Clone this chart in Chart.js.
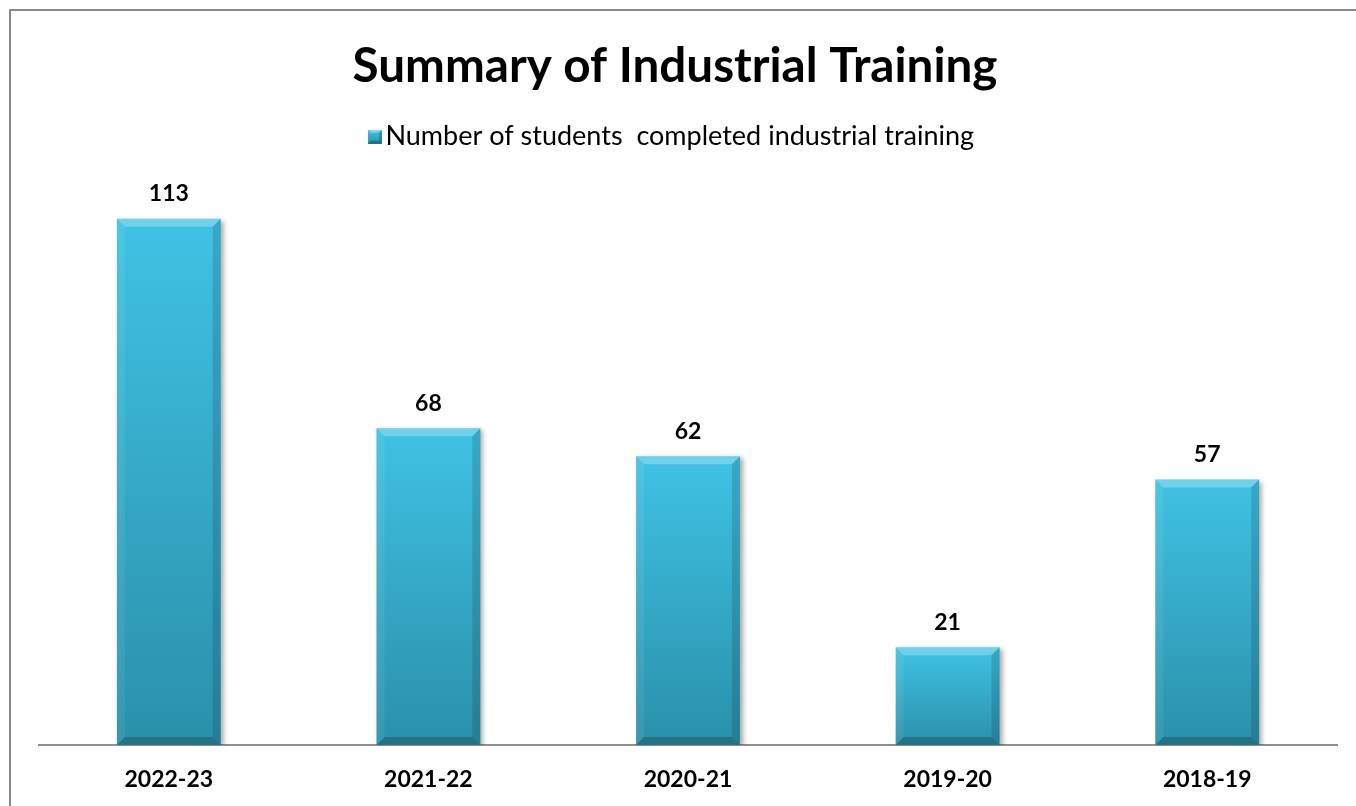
<!DOCTYPE html>
<html>
<head>
<meta charset="utf-8">
<script src="https://cdn.jsdelivr.net/npm/chart.js@4.4.1/dist/chart.umd.min.js"></script>
<style>
  html, body { margin: 0; padding: 0; background: #ffffff; }
  canvas { display: block; }
</style>
</head>
<body>
<canvas id="chart" width="1356" height="806"></canvas>
<script>
// Chart content
const years = ['2022-23', '2021-22', '2020-21', '2019-20', '2018-19'];
const completed = [113, 68, 62, 21, 57];
const seriesName = 'Number of students  completed industrial training';
const chartTitle = 'Summary of Industrial Training';
const yMin = 0;
const yMax = 120;

const FONT = 'Lato, "Open Sans", "DejaVu Sans", sans-serif';

// Small bevelled swatch used as the legend marker (box sits at the right of the canvas)
function makeSwatch(size, offset) {
  const c = document.createElement('canvas');
  c.width = size + offset; c.height = size;
  const g = c.getContext('2d');
  g.translate(offset, 0);
  const grad = g.createLinearGradient(0, 0, 0, size);
  grad.addColorStop(0, '#45c6e6');
  grad.addColorStop(1, '#2b93ae');
  g.fillStyle = grad;
  g.fillRect(0, 0, size, size);
  const s = 3;
  const poly = (pts, col) => {
    g.beginPath(); g.moveTo(pts[0][0], pts[0][1]);
    for (let i = 1; i < pts.length; i++) g.lineTo(pts[i][0], pts[i][1]);
    g.closePath(); g.fillStyle = col; g.fill();
  };
  poly([[0,0],[size,0],[size-s,s],[s,s]], 'rgba(255,255,255,0.35)');
  poly([[size,0],[size,size],[size-s,size-s],[size-s,s]], 'rgba(0,0,0,0.18)');
  poly([[0,size],[s,size-s],[size-s,size-s],[size,size]], 'rgba(0,0,0,0.25)');
  return c;
}

function fillPoly(ctx, pts, col) {
  ctx.beginPath();
  ctx.moveTo(pts[0][0], pts[0][1]);
  for (let i = 1; i < pts.length; i++) ctx.lineTo(pts[i][0], pts[i][1]);
  ctx.closePath();
  ctx.fillStyle = col;
  ctx.fill();
}

// Frame line along the left and top edges
const framePlugin = {
  id: 'frame',
  beforeDraw(chart) {
    const ctx = chart.ctx;
    ctx.save();
    ctx.fillStyle = '#8a8a8a';
    ctx.fillRect(9, 9, 2, chart.height - 9);
    ctx.fillRect(9, 9, chart.width - 9, 2);
    ctx.restore();
  }
};

// Extra space between the legend and the plot area
const legendGap = {
  id: 'legendGap',
  beforeInit(chart) {
    const fit = chart.legend.fit;
    chart.legend.fit = function () {
      fit.call(this);
      this.height += 26;
    };
  },
  // centre the heading blocks on the page rather than on the plot area
  afterLayout(chart) {
    const shift = (box, dx) => { if (box) { box.left += dx; box.right += dx; } };
    shift(chart.titleBlock, -13);
    shift(chart.legend, -16);
  }
};

// Drop shadow under the bars plus bevelled edges on top of them
const bevelPlugin = {
  id: 'bevel',
  beforeDatasetDraw(chart) {
    const ctx = chart.ctx;
    ctx.save();
    ctx.shadowColor = 'rgba(0,0,0,0.35)';
    ctx.shadowBlur = 5;
    ctx.shadowOffsetX = 3;
    ctx.shadowOffsetY = 2;
  },
  afterDatasetDraw(chart, args) {
    const ctx = chart.ctx;
    ctx.restore();
    ctx.save();
    args.meta.data.forEach(bar => {
      const p = bar.getProps(['x', 'y', 'base', 'width'], true);
      const l = p.x - p.width / 2, r = p.x + p.width / 2;
      const t = Math.min(p.y, p.base), b = Math.max(p.y, p.base);
      const s = Math.min(8, (b - t) / 2);
      fillPoly(ctx, [[l, t], [r, t], [r - s, t + s], [l + s, t + s]], 'rgba(255,255,255,0.26)');
      fillPoly(ctx, [[l, t], [l + s, t + s], [l + s, b - s], [l, b]], 'rgba(255,255,255,0.07)');
      fillPoly(ctx, [[r, t], [r, b], [r - s, b - s], [r - s, t + s]], 'rgba(0,0,0,0.13)');
      fillPoly(ctx, [[l, b], [l + s, b - s], [r - s, b - s], [r, b]], 'rgba(0,0,0,0.2)');
    });
    ctx.restore();
  }
};

// Value written above each bar
const valueLabels = {
  id: 'valueLabels',
  afterDatasetsDraw(chart) {
    const ctx = chart.ctx;
    ctx.save();
    ctx.font = 'bold 23px ' + FONT;
    ctx.fillStyle = '#000000';
    ctx.textAlign = 'center';
    ctx.textBaseline = 'middle';
    chart.data.datasets.forEach((ds, di) => {
      chart.getDatasetMeta(di).data.forEach((bar, i) => {
        ctx.fillText(String(ds.data[i]), bar.x, bar.y - 25);
      });
    });
    ctx.restore();
  }
};

new Chart(document.getElementById('chart'), {
  type: 'bar',
  data: {
    labels: years,
    datasets: [{
      label: seriesName,
      data: completed,
      backgroundColor(ctx) {
        const chart = ctx.chart;
        if (!chart.chartArea || ctx.type !== 'data') return '#3bb8d8';
        const yScale = chart.scales.y;
        const top = yScale.getPixelForValue(ctx.raw);
        const bottom = yScale.getPixelForValue(0);
        const g = chart.ctx.createLinearGradient(0, top, 0, bottom);
        g.addColorStop(0, '#40c2e4');
        g.addColorStop(1, '#2a90aa');
        return g;
      },
      borderWidth: 0,
      barPercentage: 0.4,
      categoryPercentage: 1.0
    }]
  },
  options: {
    responsive: false,
    animation: false,
    devicePixelRatio: 1,
    layout: { padding: { left: 39, right: 19, top: 0, bottom: 12 } },
    plugins: {
      title: {
        display: true,
        text: chartTitle,
        color: '#000000',
        font: { family: FONT, size: 47.6, weight: 'bold' },
        padding: { top: 38, bottom: 18 }
      },
      legend: {
        display: true,
        position: 'top',
        labels: {
          color: '#000000',
          font: { family: FONT, size: 27 },
          usePointStyle: true,
          pointStyle: makeSwatch(14, 8),
          pointStyleWidth: 2,
          padding: 10
        }
      },
      tooltip: { enabled: false }
    },
    scales: {
      x: {
        grid: { display: true, drawOnChartArea: false, drawTicks: false },
        border: { display: true, color: '#8f8f8f', width: 2 },
        ticks: {
          color: '#000000',
          font: { family: FONT, size: 23, weight: 'bold' },
          padding: 21
        },
        afterFit(scale) { scale.height = 49; }
      },
      y: {
        display: false,
        min: yMin,
        max: yMax
      }
    }
  },
  plugins: [framePlugin, legendGap, bevelPlugin, valueLabels]
});
</script>
</body>
</html>
